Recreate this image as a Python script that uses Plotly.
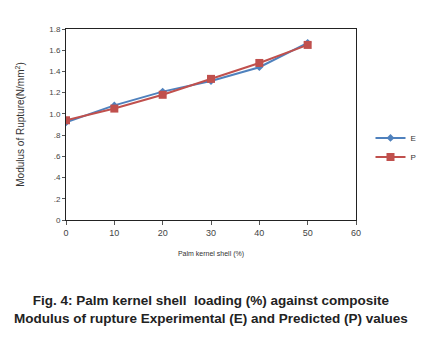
import plotly.graph_objects as go

# Palm kernel shell loading (%) and modulus of rupture (N/mm²)
loading = [0, 10, 20, 30, 40, 50]
experimental = [0.92, 1.08, 1.21, 1.31, 1.44, 1.67]
predicted = [0.94, 1.05, 1.18, 1.33, 1.48, 1.65]

x_ticks = [0, 10, 20, 30, 40, 50, 60]
y_ticks = [0, 0.2, 0.4, 0.6, 0.8, 1.0, 1.2, 1.4, 1.6, 1.8]
y_ticktext = ["0", ".2", ".4", ".6", ".8", "1.0", "1.2", "1.4", "1.6", "1.8"]

caption = ("<b>Fig. 4: Palm kernel shell  loading (%) against composite<br>"
           "Modulus of rupture Experimental (E) and Predicted (P) values</b>")

fig = go.Figure()
fig.add_trace(go.Scatter(
    x=loading, y=experimental, name="E", mode="lines+markers",
    line=dict(color="#4F81BD", width=2),
    marker=dict(symbol="diamond", size=6, color="#4F81BD"),
))
fig.add_trace(go.Scatter(
    x=loading, y=predicted, name="P", mode="lines+markers",
    line=dict(color="#C0504D", width=2),
    marker=dict(symbol="square", size=8, color="#C0504D"),
))

axis_common = dict(
    showgrid=False, zeroline=False, showline=True, linecolor="#222",
    linewidth=1, mirror=True, ticks="outside", tickcolor="#555",
)

fig.update_layout(
    width=433, height=342,
    margin=dict(l=66, r=70, t=29, b=122),
    paper_bgcolor="white", plot_bgcolor="white",
    xaxis=dict(range=[0, 60], tickvals=x_ticks, ticklen=4, **axis_common,
               tickfont=dict(family="Liberation Sans, Arial", size=9, color="#444"),
               title=dict(text="Palm kernel shell (%)", standoff=14,
                          font=dict(family="Liberation Sans, Arial", size=7, color="#333"))),
    yaxis=dict(range=[0, 1.8], tickvals=y_ticks, ticktext=y_ticktext, ticklen=3,
               **axis_common,
               tickfont=dict(family="Liberation Sans, Arial", size=8, color="#444"),
               title=dict(text="Modulus of Rupture(N/mm<sup>2</sup>)", standoff=22,
                          font=dict(family="Liberation Sans, Arial", size=10, color="#333"))),
    legend=dict(x=1.05, y=0.38, xanchor="left", yanchor="middle",
                font=dict(family="Liberation Sans, Arial", size=8, color="#333"),
                bgcolor="rgba(0,0,0,0)", itemwidth=30, tracegroupgap=2),
    showlegend=True,
    annotations=[dict(
        text=caption, xref="paper", yref="paper", x=(215 - 66) / 297, y=-0.37,
        xanchor="center", yanchor="top", showarrow=False, align="center",
        font=dict(family="Liberation Sans, Arial", size=13.5, color="#222"),
    )],
)

fig.write_html("out.html")
